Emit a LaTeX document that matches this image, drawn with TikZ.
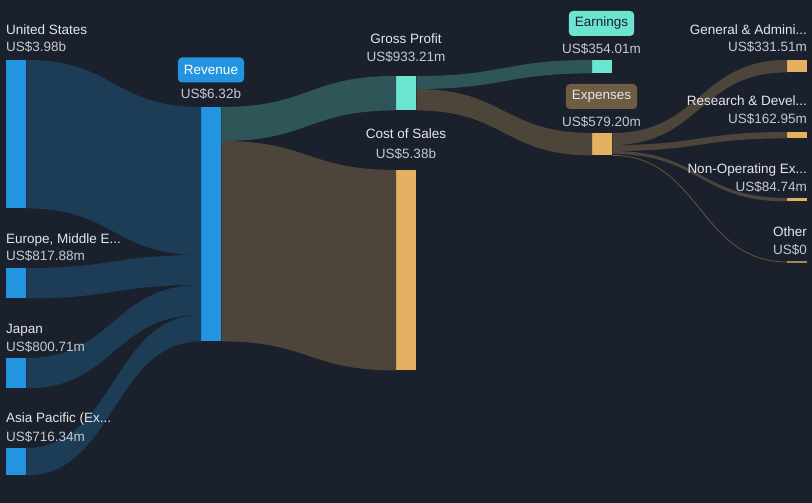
\documentclass[tikz,border=0pt]{standalone}
\usepackage{fontspec}
\setmainfont{Liberation Sans}
\usepackage{tikz}
\usetikzlibrary{calc, positioning}
\definecolor{bgcol}{HTML}{1B202D}
\definecolor{barblue}{HTML}{2394DF}
\definecolor{barteal}{HTML}{6CE5D0}
\definecolor{barorange}{HTML}{E6B062}
\definecolor{linkblue}{HTML}{1D3D57}
\definecolor{linkteal}{HTML}{2E5558}
\definecolor{linkbrown}{HTML}{4D4539}
\definecolor{badgebrown}{HTML}{6E5C43}
\definecolor{namecol}{HTML}{E4E7EC}
\definecolor{valcol}{HTML}{C4C9D1}
\tikzset{
		bar/.style={inner sep=0pt, minimum width=20pt, anchor=north west},
		name lbl/.style={text=namecol, font=\fontsize{13.5}{16}\selectfont, inner sep=0pt},
		val lbl/.style={text=valcol, font=\fontsize{13.5}{16}\selectfont, inner sep=0pt},
		badge/.style={rounded corners=4pt, minimum height=25pt, inner xsep=6pt,
			font=\fontsize{13.5}{16}\selectfont, anchor=center}
	}
% band between two stacked segments
\newcommand\flowband[5]{%
	\fill[#1] (#2) .. controls +(88,0) and +(-88,0) .. (#4)
		-- (#5) .. controls +(-88,0) and +(88,0) .. (#3) -- cycle;}

\begin{document}
\begin{tikzpicture}[x=1pt, y=-1pt]
		\fill[bgcol] (0,0) rectangle (812,503);
		\useasboundingbox (0,0) rectangle (812,503);

		% bars
		\node[bar, fill=barblue, minimum height=148] (us)   at (6,60)  {};
		\node[bar, fill=barblue, minimum height=30]  (emea) at (6,268) {};
		\node[bar, fill=barblue, minimum height=30]  (jp)   at (6,358) {};
		\node[bar, fill=barblue, minimum height=27]  (apac) at (6,448) {};
		\node[bar, fill=barblue, minimum height=234] (rev)  at (201,107) {};
		\node[bar, fill=barteal, minimum height=34]  (gp)   at (396,76)  {};
		\node[bar, fill=barorange, minimum height=200] (cos) at (396,170) {};
		\node[bar, fill=barteal, minimum height=13]  (earn) at (592,60)  {};
		\node[bar, fill=barorange, minimum height=22] (exp) at (592,133) {};
		\node[bar, fill=barorange, minimum height=12] (ga)  at (787,60)  {};
		\node[bar, fill=barorange, minimum height=6]  (rd)  at (787,132) {};
		\node[bar, fill=barorange, minimum height=3]  (nonop) at (787,198) {};
		\node[bar, fill=barorange!70!bgcol, minimum height=1.5] (oth) at (787,261) {};

		% split points
		\coordinate (rv1) at ($(rev.north west)+(0,148)$);
		\coordinate (rv2) at ($(rev.north west)+(0,178)$);
		\coordinate (rv3) at ($(rev.north west)+(0,208)$);
		\coordinate (rvo) at ($(rev.north east)+(0,34)$);
		\coordinate (gpo) at ($(gp.north east)+(0,13)$);
		\coordinate (ex1) at ($(exp.north east)+(0,12)$);
		\coordinate (ex2) at ($(exp.north east)+(0,18)$);
		\coordinate (ex3) at ($(exp.north east)+(0,21)$);

		% links
		\flowband{linkblue}{us.north east}{us.south east}{rev.north west}{rv1}
		\flowband{linkblue}{emea.north east}{emea.south east}{rv1}{rv2}
		\flowband{linkblue}{jp.north east}{jp.south east}{rv2}{rv3}
		\flowband{linkblue}{apac.north east}{apac.south east}{rv3}{rev.south west}
		\flowband{linkteal}{rev.north east}{rvo}{gp.north west}{gp.south west}
		\flowband{linkbrown}{rvo}{rev.south east}{cos.north west}{cos.south west}
		\flowband{linkteal}{gp.north east}{gpo}{earn.north west}{earn.south west}
		\flowband{linkbrown}{gpo}{gp.south east}{exp.north west}{exp.south west}
		\flowband{linkbrown}{exp.north east}{ex1}{ga.north west}{ga.south west}
		\flowband{linkbrown}{ex1}{ex2}{rd.north west}{rd.south west}
		\flowband{linkbrown}{ex2}{ex3}{nonop.north west}{nonop.south west}
		\draw[linkbrown!80!barorange, line width=0.7pt] (exp.south east)
			.. controls +(88,0) and +(-88,0) .. (oth.west);

		% labels
		\node[name lbl, anchor=base west] (usname)   at (6,35)  {United States};
		\node[val lbl,  anchor=base west] (usval)    at (6,52)  {US\$3.98b};
		\node[name lbl, anchor=base west] (emeaname) at (6,243) {Europe, Middle E...};
		\node[val lbl,  anchor=base west] (emeaval)  at (6,260) {US\$817.88m};
		\node[name lbl, anchor=base west] (jpname)   at (6,333) {Japan};
		\node[val lbl,  anchor=base west] (jpval)    at (6,351) {US\$800.71m};
		\node[name lbl, anchor=base west] (apacname) at (6,422) {Asia Pacific (Ex...};
		\node[val lbl,  anchor=base west] (apacval)  at (6,441) {US\$716.34m};

		\node[badge, fill=barblue, text=white] (revname) at (211,70) {Revenue};
		\node[val lbl, anchor=base] (revval) at (211,99) {US\$6.32b};
		\node[name lbl, anchor=base] (gpname)  at (406,44)  {Gross Profit};
		\node[val lbl,  anchor=base] (gpval)   at (406,62)  {US\$933.21m};
		\node[name lbl, anchor=base] (cosname) at (406,139) {Cost of Sales};
		\node[val lbl,  anchor=base] (cosval)  at (406,158) {US\$5.38b};
		\node[badge, fill=barteal, text=bgcol] (earnname) at (601.5,23.5) {Earnings};
		\node[val lbl, anchor=base] (earnval) at (601.5,54) {US\$354.01m};
		\node[badge, fill=badgebrown, text=namecol] (expname) at (601.5,96.5) {Expenses};
		\node[val lbl, anchor=base] (expval) at (601.5,126) {US\$579.20m};

		\node[name lbl, anchor=base east] (ganame)    at (807,35)  {General \& Admini...};
		\node[val lbl,  anchor=base east] (gaval)     at (807,52)  {US\$331.51m};
		\node[name lbl, anchor=base east] (rdname)    at (807,106) {Research \& Devel...};
		\node[val lbl,  anchor=base east] (rdval)     at (807,124) {US\$162.95m};
		\node[name lbl, anchor=base east] (nonopname) at (807,173) {Non-Operating Ex...};
		\node[val lbl,  anchor=base east] (nonopval)  at (807,191) {US\$84.74m};
		\node[name lbl, anchor=base east] (othname)   at (807,236) {Other};
		\node[val lbl,  anchor=base east] (othval)    at (807,254) {US\$0};
	\end{tikzpicture}
\end{document}
